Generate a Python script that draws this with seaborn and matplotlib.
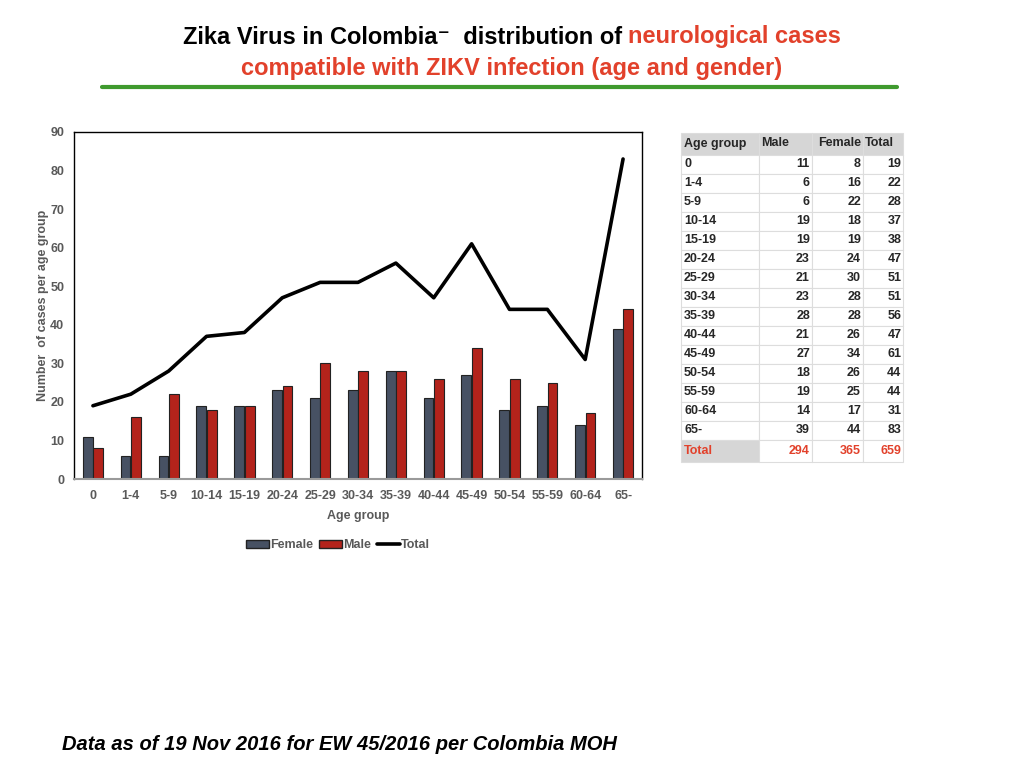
import numpy as np
import pandas as pd
import matplotlib
matplotlib.use("Agg")
import matplotlib.pyplot as plt
from matplotlib.patches import Patch
from matplotlib.lines import Line2D
import seaborn as sns

# ---- data ----
age_groups = ["0", "1-4", "5-9", "10-14", "15-19", "20-24", "25-29", "30-34",
              "35-39", "40-44", "45-49", "50-54", "55-59", "60-64", "65-"]
male_tab = [11, 6, 6, 19, 19, 23, 21, 23, 28, 21, 27, 18, 19, 14, 39]
female_tab = [8, 16, 22, 18, 19, 24, 30, 28, 28, 26, 34, 26, 25, 17, 44]
total_vals = [19, 22, 28, 37, 38, 47, 51, 51, 56, 47, 61, 44, 44, 31, 83]
total_row = [294, 365, 659]
# chart legend labels (as shown in the chart): dark bars = "Female", red = "Male"
chart_female = male_tab
chart_male = female_tab

sns.set_theme(style="white")
plt.rcParams["font.family"] = ["Liberation Sans", "DejaVu Sans"]

DARK = "#475163"
RED = "#b3231b"
GRAY_TXT = "#595959"

fig = plt.figure(figsize=(10.24, 7.68), dpi=100)
W, H = 1024, 768

def fx(px):
    return px / W

def fy(py):
    return 1 - py / H

ax = fig.add_axes([fx(74), fy(479), fx(642) - fx(74), fy(132) - fy(479)])

df = pd.DataFrame({
    "Age group": age_groups * 2,
    "Sex": ["Female"] * len(age_groups) + ["Male"] * len(age_groups),
    "Cases": chart_female + chart_male,
})
sns.barplot(data=df, x="Age group", y="Cases", hue="Sex", order=age_groups,
            hue_order=["Female", "Male"], palette=[DARK, RED], saturation=1,
            width=0.55, gap=0.06, edgecolor="#222222", linewidth=0.8,
            legend=False, ax=ax)
sns.lineplot(x=np.arange(len(age_groups)), y=total_vals, color="black",
             linewidth=2.6, ax=ax)

ax.set_xlim(-0.5, len(age_groups) - 0.5)
ax.set_ylim(0, 90)
ax.set_yticks(range(0, 91, 10))
ax.tick_params(axis="x", length=0, labelsize=9, colors=GRAY_TXT, pad=8)
ax.tick_params(axis="y", length=0, labelsize=9, colors=GRAY_TXT, pad=7)
for lbl in ax.get_xticklabels() + ax.get_yticklabels():
    lbl.set_fontweight("bold")
ax.set_xlabel("Age group", fontsize=9, fontweight="bold", color=GRAY_TXT, labelpad=6)
ax.set_ylabel("Number  of cases per age group", fontsize=9, fontweight="bold",
              color=GRAY_TXT, labelpad=0)
ax.yaxis.set_label_coords(-0.044, 0.5)
for s in ["left", "top", "right"]:
    ax.spines[s].set_color("black")
    ax.spines[s].set_linewidth(1.0)
ax.spines["bottom"].set_color("#9a9a9a")
ax.spines["bottom"].set_linewidth(1.5)

handles = [Patch(facecolor=DARK, edgecolor="#222222", label="Female"),
           Patch(facecolor=RED, edgecolor="#222222", label="Male"),
           Line2D([0], [0], color="black", linewidth=2.6, label="Total")]
leg = fig.legend(handles=handles, loc="center", bbox_to_anchor=(fx(338), fy(545)),
                 ncol=3, frameon=False, fontsize=9, handlelength=1.8,
                 handleheight=0.6, handletextpad=0.1, columnspacing=0.5)
for t in leg.get_texts():
    t.set_color(GRAY_TXT)
    t.set_fontweight("bold")

# ---- table ----
tax = fig.add_axes([fx(681), fy(462), fx(903) - fx(681), fy(132) - fy(462)])
tax.axis("off")
col_labels = ["Age group", "Male", "Female", "Total"]
cell_text = [[a, str(m), str(f), str(t)] for a, m, f, t in
             zip(age_groups, male_tab, female_tab, total_vals)]
cell_text.append(["Total"] + [str(v) for v in total_row])
tbl = tax.table(cellText=cell_text, colLabels=col_labels, loc="center",
                bbox=[0, 0, 1, 1])
tbl.auto_set_font_size(False)
tbl.set_fontsize(9)
col_w = [78, 53, 51, 40]
tot_h = 330.0
nrows = len(cell_text) + 1
heights = [22] + [19] * (nrows - 2) + [22]
for (r, c), cell in tbl.get_celld().items():
    cell.set_width(col_w[c] / sum(col_w))
    cell.set_height(heights[r] / tot_h)
    cell.set_edgecolor("#dddddd")
    cell.set_linewidth(0.8)
    txt = cell.get_text()
    txt.set_fontweight("bold")
    if c == 0:
        cell._loc = "left"
        txt.set_horizontalalignment("left")
    else:
        cell._loc = "right"
        txt.set_horizontalalignment("right")
    cell.PAD = 0.04
    if r == 0:
        cell.set_facecolor("#d6d6d6")
        if c in (1, 3):
            cell._loc = "left"
            txt.set_horizontalalignment("left")
    elif r == nrows - 1:
        txt.set_color("#e2412b")
        cell.set_facecolor("#d6d6d6" if c == 0 else "white")
    else:
        cell.set_facecolor("white")
y = 1.0
for r in range(nrows):
    y -= heights[r] / tot_h
    x = 0.0
    for c in range(4):
        cell = tbl[r, c]
        cell.set_xy((x, y))
        x += col_w[c] / sum(col_w)
tbl._bbox = None

# ---- titles ----
fig.canvas.draw()
renderer = fig.canvas.get_renderer()
part1 = "Zika Virus in Colombia\u207b  distribution of "
part2 = "neurological cases"
t1 = fig.text(0, fy(37), part1, fontsize=17, fontweight="bold", color="black",
              va="center", ha="left")
t2 = fig.text(0, fy(37), part2, fontsize=17, fontweight="bold", color="#e2412b",
              va="center", ha="left")
w1 = t1.get_window_extent(renderer).width
w2 = t2.get_window_extent(renderer).width
start = 512 - (w1 + w2) / 2
t1.set_x(fx(start))
t2.set_x(fx(start + w1))
fig.text(0.5, fy(69), "compatible with ZIKV infection (age and gender)", fontsize=17,
         fontweight="bold", color="#e2412b", va="center", ha="center")
fig.add_artist(Line2D([fx(102), fx(897)], [fy(87), fy(87)], color="#3f9a2e",
                      linewidth=3, transform=fig.transFigure))

fig.text(fx(62), fy(744), "Data as of 19 Nov 2016 for EW 45/2016 per Colombia MOH",
         fontsize=14.5, fontweight="bold", fontstyle="italic", color="black",
         va="center", ha="left")

fig.savefig("out.png", dpi=100)
